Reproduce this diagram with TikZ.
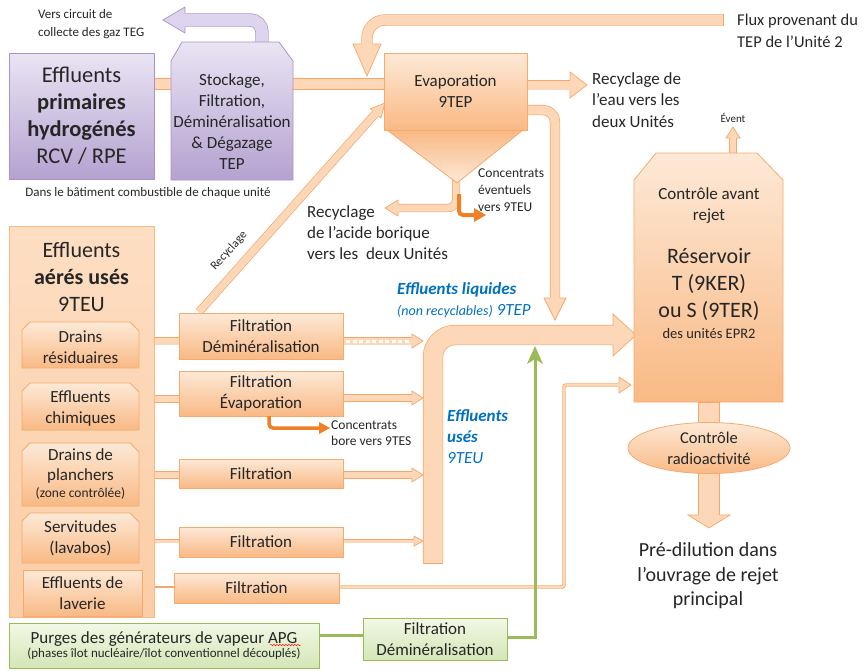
\documentclass[tikz,border=0pt]{standalone}
\usepackage{fontspec}
\setmainfont{Carlito}
\usetikzlibrary{shapes.geometric,decorations.pathmorphing,calc}
\definecolor{pipeF}{RGB}{252,216,184}
\definecolor{pipeB}{RGB}{246,166,104}
\definecolor{boxT}{RGB}{253,233,215}
\definecolor{boxB}{RGB}{249,185,132}
\definecolor{boxBorder}{RGB}{246,170,110}
\definecolor{bigT}{RGB}{253,222,195}
\definecolor{bigB}{RGB}{251,205,165}
\definecolor{bigBorder}{RGB}{248,185,135}
\definecolor{purT}{RGB}{234,228,244}
\definecolor{purB}{RGB}{180,162,208}
\definecolor{purBorder}{RGB}{168,148,198}
\definecolor{purPipe}{RGB}{222,212,238}
\definecolor{grT}{RGB}{242,248,230}
\definecolor{grB}{RGB}{212,230,182}
\definecolor{grBorder}{RGB}{155,187,89}
\definecolor{dorange}{RGB}{240,128,40}
\definecolor{blueT}{RGB}{0,112,192}
\definecolor{txtC}{RGB}{38,38,38}
\newcommand\fs[2]{\fontsize{#1}{#2}\selectfont}
\newcommand\fathead[7]{%
\begin{scope}[shift={#3},rotate=#4]
\fill[#1] (0,0) -- (-#5,#6) -- (-#5,-#6) -- cycle;
\draw[#2, line width=0.7pt, line join=miter] (-#5,#7) -- (-#5,#6) -- (0,0) -- (-#5,-#6) -- (-#5,-#7);
\end{scope}}
\newcommand\subbox[4]{%
\draw[draw=boxBorder, line width=0.8pt, top color=boxT, bottom color=boxB] (#1,#4) -- (#1,{#2+8}) -- ({#1+8},#2) -- ({#3-9},#2) -- (#3,{#2+9}) -- (#3,#4) -- cycle;}
\begin{document}
\begin{tikzpicture}[x=1pt,y=-1pt,
  pipe/.style={draw=pipeB, line width=0.7pt, double=pipeF, double distance=#1},
  ppipe/.style={draw=purBorder, line width=0.7pt, double=purPipe, double distance=#1},
  obox/.style={draw=boxBorder, line width=0.8pt, top color=boxT, bottom color=boxB, inner sep=0pt, align=center, text=txtC},
  gbox/.style={draw=grBorder, line width=0.8pt, top color=grT, bottom color=grB, inner sep=0pt, align=center, text=txtC},
  txt/.style={inner sep=0pt, align=center, text=txtC},
  ltxt/.style={inner sep=0pt, align=left, anchor=west, text=txtC},
  btxt/.style={inner sep=0pt, align=left, anchor=west, text=blueT}]
\useasboundingbox (0,0) rectangle (866,670);

% ---------- pipes (behind) ----------
% flux from unit 2
\draw[pipe=10pt, rounded corners=18pt] (723,20) -| (367,45);
\draw[pipeB, line width=0.7pt] (723,14.3) -- (723,25.7);
\fathead{pipeF}{pipeB}{(367,76)}{-90}{32}{14}{5.7}
% main pipe purple -> evap
\draw[pipe=10.5pt] (154,84) -- (385,84);
% purple gas arrow
\draw[ppipe=12pt, rounded corners=12pt] (262,43) |- (184,20);
\fathead{purPipe}{purBorder}{(163,20)}{180}{22}{13}{6.7}
% evap outlet right
\draw[pipe=9pt] (527,85) -- (571,85);
\fathead{pipeF}{pipeB}{(587,85)}{0}{17}{13}{5.2}
% evap lower outlet down to reservoir inlet
\draw[pipe=9pt, rounded corners=12pt] (527,110) -| (555,300);
\fathead{pipeF}{pipeB}{(555,320)}{-90}{22}{11}{5.2}
% recyclage diagonal
\draw[pipe=7pt] (199,312) -- (376,113);
\fathead{pipeF}{pipeB}{(385,103)}{48}{14}{7}{4.2}
\node[txt, rotate=48, font=\fs{12}{14}] (recl) at (229,251) {Recyclage};
% hopper stem
\draw[pipe=7pt, rounded corners=8pt] (456,178) |- (397,208);
\fathead{pipeF}{pipeB}{(385,208)}{180}{13}{8}{4.2}
\draw[dorange, line width=4pt, rounded corners=4pt] (459,194) |- (476,215);
\fill[dorange] (486,215) -- (474,208) -- (474,222) -- cycle;

% collector
\draw[pipe=19pt, rounded corners=22pt] (433,563) |- (615,335);
\draw[pipeB, line width=0.7pt] (423.2,563) -- (442.8,563);
\fathead{pipeF}{pipeB}{(636,335)}{0}{23}{21}{10.2}
% filtration -> collector
\draw[pipe=7pt] (343,341) -- (413,341);
\draw[white, line width=3pt, dash pattern=on 4pt off 2.5pt] (346,341) -- (410,341);
\fathead{pipeF}{pipeB}{(423,341)}{0}{11}{7}{4.2}
\draw[pipe=6pt] (343,398) -- (413,398);
\fathead{pipeF}{pipeB}{(423,398)}{0}{11}{7}{3.7}
\draw[pipe=6pt] (343,475) -- (413,475);
\fathead{pipeF}{pipeB}{(423,475)}{0}{11}{7}{3.7}
\draw[pipe=3pt] (343,541) -- (415,541);
\fathead{pipeF}{pipeB}{(423,541)}{0}{9}{5}{2.2}
% sub-box -> filtration
\draw[pipe=7pt] (139,341) -- (180,341);
\draw[pipe=6pt] (139,399) -- (180,399);
\draw[pipe=6pt] (139,475) -- (180,475);
\draw[pipe=3pt] (139,541) -- (180,541);
\draw[pipeB, line width=1.2pt] (142,587) -- (175,587);
% laverie filtration -> reservoir
\draw[pipe=2pt, rounded corners=2pt] (339,587) -| (564,385) -- (621,385);
\fathead{pipeF}{pipeB}{(631,385)}{0}{12}{8}{1.7}
% green line
\draw[grBorder, line width=3pt] (319,635) -- (364,635);
\draw[grBorder, line width=3pt] (507,637) -| (535,358);
\fill[grBorder] (535,346) -- (543,364) -- (535,359) -- (527,364) -- cycle;
% event arrow
\draw[pipe=6pt] (733,154) -- (733,138);
\fathead{pipeF}{pipeB}{(733,127)}{90}{11}{7}{3.7}
% stem below reservoir
\draw[draw=pipeB, fill=pipeF, line width=0.7pt] (698,402) rectangle (719,426);
% final down arrow
\draw[pipe=20pt] (709,472) -- (709,516);
\fathead{pipeF}{pipeB}{(709,528)}{-90}{13}{21}{10.7}

% ---------- boxes ----------
\node[obox, draw=purBorder, top color=purT, bottom color=purB, minimum width=145pt, minimum height=126pt, font=\fs{22.5}{27}] (pbox) at (81.5,116) {Effluents\\\textbf{primaires}\\\textbf{hydrogénés}\\RCV / RPE};
\draw[draw=purBorder, line width=0.8pt, top color=purT, bottom color=purB] (171,180) -- (171,61) -- (182,42) -- (279,42) -- (293,61) -- (293,180) -- cycle;
\node[txt, font=\fs{17}{21}] (sto) at (232,122) {Stockage,\\Filtration,\\Déminéralisation\\\& Dégazage\\TEP};

\draw[draw=boxBorder, line width=0.8pt, top color=boxB, bottom color=boxT] (387,130) -- (523,130) -- (457,183) -- cycle;
\node[obox, minimum width=143pt, minimum height=77pt, font=\fs{17}{21}] (evap) at (455.5,91.5) {Evaporation\\9TEP};

\node[draw=bigBorder, line width=0.8pt, top color=bigT, bottom color=bigB, minimum width=145pt, minimum height=391pt, inner sep=0pt] (aer) at (81.5,421.5) {};
\node[txt, font=\fs{22}{27}] (aert) at (81.5,277) {Effluents\\\textbf{aérés usés}\\9TEU};

\subbox{22}{322}{139}{368}
\node[txt, font=\fs{17}{21}] (dr) at (80.5,347.5) {Drains\\résiduaires};
\subbox{22}{383}{139}{430}
\node[txt, font=\fs{17}{21}] (ec) at (80.5,408.5) {Effluents\\chimiques};
\subbox{22}{443}{139}{506}
\node[txt, font=\fs{17}{20}] (dp) at (80.5,474) {Drains de\\planchers\\[-3pt]{\fs{13.5}{15}(zone contrôlée)}};
\subbox{22}{513}{139}{563}
\node[txt, font=\fs{17}{21}] (sv) at (80.5,538.5) {Servitudes\\(lavabos)};
\node[obox, minimum width=119pt, minimum height=46pt, font=\fs{17}{21}] (el) at (82.5,593) {Effluents de\\laverie};

\node[obox, minimum width=164pt, minimum height=46pt, font=\fs{17}{21}] (f1) at (261,336) {Filtration\\Déminéralisation};
\node[obox, minimum width=164pt, minimum height=45pt, font=\fs{17}{21}] (f2) at (261,393.5) {Filtration\\Évaporation};
\node[obox, minimum width=164pt, minimum height=29pt, font=\fs{17}{21}] (f3) at (261,473.5) {Filtration};
\node[obox, minimum width=164pt, minimum height=30pt, font=\fs{17}{21}] (f4) at (261,542) {Filtration};
\node[obox, minimum width=165pt, minimum height=30pt, font=\fs{17}{21}] (f5) at (256.5,588) {Filtration};

\draw[dorange, line width=3.5pt, rounded corners=4pt] (269,416) |- (320,428);
\fill[dorange] (330,428) -- (319,422) -- (319,434) -- cycle;

\node[gbox, minimum width=310pt, minimum height=45pt] (purge) at (164,645.5) {{\fs{17}{19}Purges des générateurs de vapeur APG}\\[0pt]{\fs{13}{15}(phases îlot nucléaire/îlot conventionnel découplés)}};
\draw[red, line width=0.45pt, decorate, decoration={snake, amplitude=0.7pt, segment length=3pt}] (270,645) -- (301,645);
\node[gbox, minimum width=144pt, minimum height=42pt, font=\fs{17}{21}] (gf) at (435,639) {Filtration\\Déminéralisation};

\draw[draw=boxBorder, line width=0.8pt, top color=boxT, bottom color=boxB] (634,402) -- (634,180) -- (656,153) -- (757,153) -- (783,180) -- (783,402) -- cycle;
\node[txt, font=\fs{17}{21}] (res1) at (709,206) {Contrôle avant\\rejet};
\node[txt, font=\fs{22}{27}] (res2) at (709,284) {Réservoir\\T (9KER)\\ou S (9TER)};
\node[txt, font=\fs{14.5}{16}] (res3) at (709,334) {des unités EPR2};
\node[ellipse, draw=boxBorder, line width=0.8pt, top color=boxT, bottom color=boxB, minimum width=162pt, minimum height=51pt, inner sep=0pt, align=center, text=txtC, font=\fs{16.5}{21}] (ctrl) at (709,448) {Contrôle\\radioactivité};

% ---------- free labels ----------
\node[ltxt, font=\fs{13}{18}] (gaz) at (38,24) {Vers circuit de\\collecte des gaz TEG};
\node[txt, font=\fs{13}{15}] (bat) at (148,193) {Dans le bâtiment combustible de chaque unité};
\node[ltxt, font=\fs{17}{21.5}] (eau) at (592,100) {Recyclage de\\l’eau vers les\\deux Unités};
\node[ltxt, font=\fs{16.5}{22}] (flux) at (737,31) {Flux provenant du\\TEP de l’Unité 2};
\node[ltxt, font=\fs{17}{21}] (bor) at (307,233) {Recyclage\\de l’acide borique\\vers les\ \ deux Unités};
\node[ltxt, font=\fs{13.5}{17}] (conc1) at (478,190) {Concentrats\\éventuels\\vers 9TEU};
\node[ltxt, font=\fs{13.5}{16}] (conc2) at (331,433) {Concentrats\\bore vers 9TES};
\node[txt, font=\fs{11}{13}] (ev) at (733,118) {Évent};
\node[txt, font=\fs{20}{24.5}] (pre) at (708,576) {Pré-dilution dans\\l’ouvrage de rejet\\principal};
\node[btxt, font=\fs{17}{21}] (bl1) at (397,290) {\textbf{\textit{Effluents liquides}}};
\node[btxt, font=\fs{17}{21}] (bl2) at (397,311) {\textit{{\fs{14}{16}(non recyclables)} 9TEP}};
\node[btxt, font=\fs{17}{21}] (bl3) at (447,437) {\textbf{\textit{Effluents}}\\\textbf{\textit{usés}}\\\textit{9TEU}};
\end{tikzpicture}
\end{document}
